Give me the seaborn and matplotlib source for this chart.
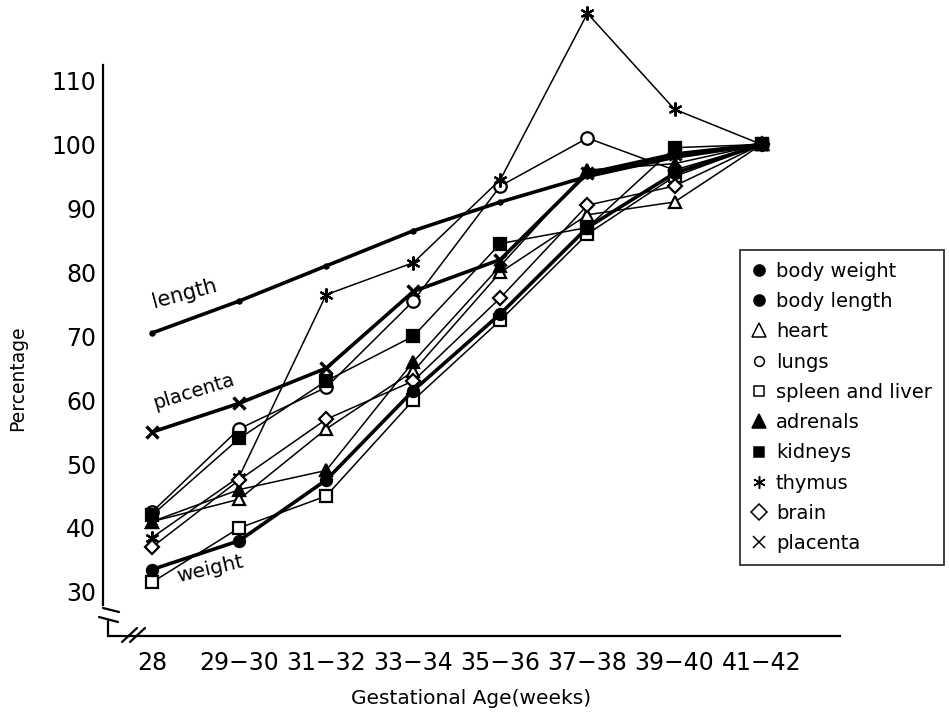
import numpy as np
import pandas as pd
import seaborn as sns
import matplotlib.pyplot as plt
from matplotlib.lines import Line2D

ages = ["28", "29−30", "31−32", "33−34", "35−36", "37−38", "39−40", "41−42"]

body_weight = [33.5, 38, 47.5, 61.5, 73.5, 87, 95.5, 100]
body_length = [70.5, 75.5, 81, 86.5, 91, 95, 98, 100]
heart = [41, 44.5, 55.5, 64.5, 80, 89, 91, 100]
lungs = [42.5, 55.5, 62, 75.5, 93.5, 101, 96, 100]
spleen_liver = [31.5, 40, 45, 60, 72.5, 86, 95, 100]
adrenals = [41, 46, 49, 66, 81, 96, 97, 100]
kidneys = [42, 54, 63, 70, 84.5, 87, 99.5, 100]
thymus = [38.5, 48, 76.5, 81.5, 94.5, 120.5, 105.5, 100]
brain = [37, 47.5, 57, 63, 76, 90.5, 93.5, 100]
placenta = [55, 59.5, 65, 77, 82, 95.5, 98.5, 100]

sns.set_style("white")
plt.rcParams["font.family"] = ["DejaVu Sans"]
plt.rcParams["text.color"] = "black"
plt.rcParams["axes.labelcolor"] = "black"

W, H = 949, 720
fig = plt.figure(figsize=(W / 100, H / 100), dpi=100)
ax = fig.add_axes([103 / W, 84 / H, 737 / W, 636 / H])

x = np.arange(len(ages))

# name, values, marker, face, size, linewidth
series = [
    ("heart", heart, "^", "white", 8, 1.1),
    ("lungs", lungs, "o", "white", 9, 1.1),
    ("spleen and liver", spleen_liver, "s", "white", 8, 1.1),
    ("adrenals", adrenals, "^", "black", 8, 1.1),
    ("kidneys", kidneys, "s", "black", 8, 1.1),
    ("thymus", thymus, (6, 2, 0), "black", 10, 1.1),
    ("brain", brain, "D", "white", 7, 1.1),
    ("placenta", placenta, "x", "black", 8, 2.6),
    ("body length", body_length, "o", "black", 3, 2.6),
    ("body weight", body_weight, "o", "black", 8, 2.6),
]

for i, (name, vals, mk, fc, ms, lw) in enumerate(series):
    df = pd.DataFrame({"x": x, "y": vals})
    sns.lineplot(data=df, x="x", y="y", ax=ax, color="black", linewidth=lw,
                 marker=mk, markersize=ms, markerfacecolor=fc,
                 markeredgecolor="black", markeredgewidth=1.6 if mk != "x" else 2.4,
                 legend=False, clip_on=False, zorder=3 + i)

ax.set_xlim(-0.563, 7.9)
ax.set_ylim(23.1, 122.6)
ax.set_xticks(x)
ax.set_xticklabels(ages)
ax.set_yticks(np.arange(30, 111, 10))
ax.tick_params(axis="both", direction="in", length=5, width=1.2, labelsize=17,
               colors="black")
ax.tick_params(axis="x", pad=11)
ax.tick_params(axis="y", pad=5)
ax.set_xlabel("Gestational Age(weeks)", fontsize=14.5)
ax.set_ylabel("Percentage", fontsize=13.5)
ax.xaxis.set_label_coords(0.5, -(698 - 636) / 636)
ax.xaxis.label.set_va("center")
ax.yaxis.set_label_coords(-(103 - 18) / 737, (636 - 378) / 636)
ax.yaxis.label.set_va("center")

for s in ["top", "right"]:
    ax.spines[s].set_visible(False)
for s in ["left", "bottom"]:
    ax.spines[s].set_color("black")
    ax.spines[s].set_linewidth(1.6)
ax.spines["left"].set_bounds(28.0, 112.5)
ax.spines["bottom"].set_bounds(-0.505, 7.9)


# axis break marks, in figure pixels from the top-left
def brk(xs, ys):
    fig.add_artist(Line2D([v / W for v in xs], [1 - v / H for v in ys],
                          color="black", linewidth=1.6))


brk([103, 119], [608, 612])
brk([99, 118], [617, 622])
brk([108, 108], [621, 636])
brk([122, 137], [642, 628])
brk([130, 145], [642, 628])

# inline labels
ax.text(-0.02, 73.8, "length", fontsize=15, rotation=15, ha="left", va="bottom")
ax.text(-0.02, 58.0, "placenta", fontsize=14, rotation=17, ha="left", va="bottom")
ax.text(0.26, 31.0, "weight", fontsize=14.5, rotation=13, ha="left", va="bottom")

order = ["body weight", "body length", "heart", "lungs", "spleen and liver",
         "adrenals", "kidneys", "thymus", "brain", "placenta"]
leg_style = {
    "body weight": ("o", "black", 8),
    "body length": ("o", "black", 8),
    "heart": ("^", "white", 10),
    "lungs": ("o", "white", 7),
    "spleen and liver": ("s", "white", 6.5),
    "adrenals": ("^", "black", 10),
    "kidneys": ("s", "black", 7.5),
    "thymus": ((6, 2, 0), "black", 9),
    "brain": ("D", "white", 8.5),
    "placenta": ("x", "black", 9),
}
handles = []
for name in order:
    lm, lf, ms = leg_style[name]
    handles.append(Line2D([], [], linestyle="none", marker=lm, markersize=ms,
                          markerfacecolor=lf, markeredgecolor="black",
                          markeredgewidth=1.1))
leg = ax.legend(handles, order, loc="upper left",
                bbox_to_anchor=((740 - 103) / 737, (636 - 250) / 636),
                frameon=True, fancybox=False, fontsize=14, labelspacing=0.58,
                handletextpad=0.45, handlelength=0.8, borderpad=0.6,
                borderaxespad=0)
leg.get_frame().set_edgecolor("black")
leg.get_frame().set_linewidth(1.3)

fig.savefig("out.png", dpi=100)
